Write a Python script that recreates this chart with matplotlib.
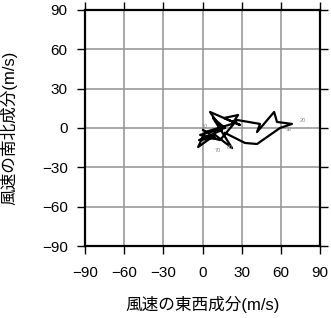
import matplotlib
matplotlib.use("Agg")
import matplotlib.pyplot as plt

plt.rcParams['font.family'] = ['Liberation Sans', 'Noto Sans CJK JP', 'DejaVu Sans']

# hodograph (u, v) in m/s
u = [0.4, 9.6, -2.7, 14.9, 5.7, 28.7, 16.5, 27.2, 22.6, 1.9, -3.4, 9.6, 22.6,
     14.9, 8.0, 17.2, -1.9, 13.4, 26.4, 44.0, 41.7, 54.8, 57.0, 68.5, 59.3,
     41.7, 32.5, 17.2]
v = [-1.5, -7.6, -9.2, -1.5, 12.2, 2.3, 7.6, 9.9, 3.1, -3.1, -14.5, -5.3, -15.3,
     -3.1, 7.6, 0.0, -5.3, -9.2, 6.1, 3.1, -3.1, 12.2, 4.6, 3.1, 0.0,
     -12.2, -11.4, -3.8]
lab_text = ["10", "70", "80", "20", "30"]
lab_u = [2, 12, 21, 77, 66]
lab_v = [1, -17, -15, 6, -1.5]
ticks = [-90, -60, -30, 0, 30, 60, 90]

fig = plt.figure(figsize=(3.31, 3.18), dpi=100)
ax = fig.add_axes([0.257, 0.226, 0.710, 0.743])
ax.plot(u, v, color="black", lw=1.6, zorder=3)
for t, x, y in zip(lab_text, lab_u, lab_v):
    ax.text(x, y, t, fontsize=4, color="#888888", ha="center", va="center", zorder=4)

ax.set_xlim(-90, 90)
ax.set_ylim(-90, 90)
ax.set_xticks(ticks)
ax.set_yticks(ticks)
ax.set_xticklabels([str(t).replace("-", "\u2212") for t in ticks])
ax.set_yticklabels([str(t).replace("-", "\u2212") for t in ticks])
ax.grid(color="#999999", lw=1.2)
ax.set_axisbelow(True)
ax.tick_params(direction="out", length=5.5, width=1, labelsize=11,
               top=True, right=True)
ax.tick_params(axis="x", pad=9)
ax.tick_params(axis="y", pad=7)
for s in ax.spines.values():
    s.set_linewidth(1.6)
ax.set_xlabel("風速の東西成分(m/s)", fontsize=12)
ax.set_ylabel("風速の南北成分(m/s)", fontsize=12)
ax.xaxis.set_label_coords(0.5, -0.212)
ax.yaxis.set_label_coords(-0.29, 0.5)

fig.savefig("out.png", dpi=100, facecolor="white")
